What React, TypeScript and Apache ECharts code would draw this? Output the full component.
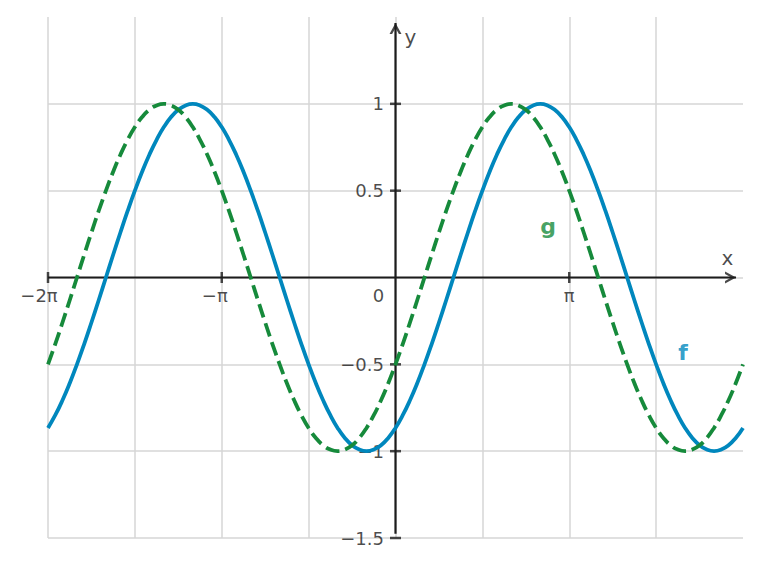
import React, { useEffect, useRef } from "react";
import * as echarts from "echarts";

const X_START = -2;
const SAMPLES_PER_PI = 24;

// f (blue, solid) every π/24 from −2π to 2π
const F_VALUES = [
  -0.866, -0.793, -0.707, -0.609, -0.5, -0.383, -0.259, -0.131, 0, 0.131, 0.259, 0.383,
  0.5, 0.609, 0.707, 0.793, 0.866, 0.924, 0.966, 0.991, 1, 0.991, 0.966, 0.924,
  0.866, 0.793, 0.707, 0.609, 0.5, 0.383, 0.259, 0.131, 0, -0.131, -0.259, -0.383,
  -0.5, -0.609, -0.707, -0.793, -0.866, -0.924, -0.966, -0.991, -1, -0.991, -0.966, -0.924,
  -0.866, -0.793, -0.707, -0.609, -0.5, -0.383, -0.259, -0.131, 0, 0.131, 0.259, 0.383,
  0.5, 0.609, 0.707, 0.793, 0.866, 0.924, 0.966, 0.991, 1, 0.991, 0.966, 0.924,
  0.866, 0.793, 0.707, 0.609, 0.5, 0.383, 0.259, 0.131, 0, -0.131, -0.259, -0.383,
  -0.5, -0.609, -0.707, -0.793, -0.866, -0.924, -0.966, -0.991, -1, -0.991, -0.966, -0.924,
  -0.866,
];

// g (green, dashed) every π/24 from −2π to 2π
const G_VALUES = [
  -0.5, -0.383, -0.259, -0.131, 0, 0.131, 0.259, 0.383, 0.5, 0.609, 0.707, 0.793,
  0.866, 0.924, 0.966, 0.991, 1, 0.991, 0.966, 0.924, 0.866, 0.793, 0.707, 0.609,
  0.5, 0.383, 0.259, 0.131, 0, -0.131, -0.259, -0.383, -0.5, -0.609, -0.707, -0.793,
  -0.866, -0.924, -0.966, -0.991, -1, -0.991, -0.966, -0.924, -0.866, -0.793, -0.707, -0.609,
  -0.5, -0.383, -0.259, -0.131, 0, 0.131, 0.259, 0.383, 0.5, 0.609, 0.707, 0.793,
  0.866, 0.924, 0.966, 0.991, 1, 0.991, 0.966, 0.924, 0.866, 0.793, 0.707, 0.609,
  0.5, 0.383, 0.259, 0.131, 0, -0.131, -0.259, -0.383, -0.5, -0.609, -0.707, -0.793,
  -0.866, -0.924, -0.966, -0.991, -1, -0.991, -0.966, -0.924, -0.866, -0.793, -0.707, -0.609,
  -0.5,
];

const X_TICKS = [-2, -1, 1];
const X_TICK_LABELS = ["−2π", "−π", "π"];
const Y_TICKS = [1, 0.5, -0.5, -1, -1.5];
const Y_TICK_LABELS = ["1", "0.5", "−0.5", "−1", "−1.5"];
const ORIGIN_LABEL = "0";

const CURVE_NAMES = ["f", "g"];
const AXIS_NAMES = ["x", "y"];

const FONT = "DejaVu Sans";
const INK = "#1c1c1c";
const BLUE = "#0087bd";
const GREEN = "#168a3b";
const GRID = "#d6d6d6";

const ARROW_RIGHT = "path://M0,0 L11,6 L0,12 L0,9.4 L6.2,6 L0,2.6 Z";
const ARROW_UP = "path://M0,11 L6,0 L12,11 L9.4,11 L6,4.8 L2.6,11 Z";

export default function App() {
  const ref = useRef<HTMLDivElement>(null);

  useEffect(() => {
    if (!ref.current) return;
    const chart = echarts.init(ref.current, null, { renderer: "svg" });

    const toPoints = (vals: number[]) =>
      vals.map((v, i) => [X_START + i / SAMPLES_PER_PI, v]);

    const X_AXIS_END = 1.96;
    const Y_AXIS_TOP = 1.465;
    const Y_AXIS_BOTTOM = -1.475;

    const labelStyle = { fontFamily: FONT, fontSize: 18, color: INK };
    // horizontal nudges of the x tick labels, as in the reference
    const xLabelShift: Record<string, number> = { "−2π": -9, "−π": -7, "π": 0 };

    const option: any = {
      animation: false,
      backgroundColor: "#ffffff",
      grid: {
        left: 48,
        right: 18,
        top: 17,
        bottom: 29,
        containLabel: false,
        outerBoundsMode: "none",
      },
      xAxis: {
        type: "value",
        min: -2,
        max: 2,
        interval: 0.5,
        axisLine: { show: false },
        axisTick: { show: false },
        axisLabel: { show: false },
        splitLine: {
          show: true,
          showMaxLine: false,
          lineStyle: { color: GRID, width: 1.5 },
        },
      },
      yAxis: {
        type: "value",
        min: -1.5,
        max: 1.5,
        interval: 0.5,
        axisLine: { show: false },
        axisTick: { show: false },
        axisLabel: { show: false },
        splitLine: {
          show: true,
          showMaxLine: false,
          lineStyle: { color: GRID, width: 1.5 },
        },
      },
      series: [
        {
          name: "x-axis",
          type: "line",
          silent: true,
          showSymbol: false,
          data: [
            [-2, 0],
            [X_AXIS_END, 0],
          ],
          lineStyle: { color: INK, width: 2.2 },
          z: 3,
        },
        {
          name: "y-axis",
          type: "line",
          silent: true,
          showSymbol: false,
          data: [
            [0, Y_AXIS_BOTTOM],
            [0, Y_AXIS_TOP],
          ],
          lineStyle: { color: INK, width: 2.2 },
          z: 3,
        },
        {
          name: "x-ticks",
          type: "scatter",
          silent: true,
          symbol: "rect",
          symbolSize: [2.5, 11],
          itemStyle: { color: INK },
          data: X_TICKS.map((t, i) => ({
            value: [t, 0],
            name: X_TICK_LABELS[i],
            label: {
              show: true,
              position: "bottom",
              distance: 3,
              offset: [xLabelShift[X_TICK_LABELS[i]] ?? 0, 0],
              formatter: "{b}",
              ...labelStyle,
            },
          })),
          z: 2,
        },
        {
          name: "origin-label",
          type: "scatter",
          silent: true,
          symbol: "rect",
          symbolSize: [1, 11],
          itemStyle: { color: "rgba(0,0,0,0)" },
          data: [
            {
              value: [0, 0],
              name: ORIGIN_LABEL,
              label: {
                show: true,
                position: "bottom",
                distance: 3,
                offset: [-17, 0],
                formatter: "{b}",
                ...labelStyle,
              },
            },
          ],
          z: 2,
        },
        {
          name: "y-ticks",
          type: "scatter",
          silent: true,
          symbol: "rect",
          symbolSize: [11, 2.5],
          itemStyle: { color: INK },
          data: Y_TICKS.map((t, i) => ({
            value: [0, t],
            name: Y_TICK_LABELS[i],
            label: {
              show: true,
              position: "left",
              distance: 6,
              formatter: "{b}",
              ...labelStyle,
            },
          })),
          z: 2,
        },
        {
          name: "x-arrow",
          type: "scatter",
          silent: true,
          symbol: ARROW_RIGHT,
          symbolSize: [11, 12],
          symbolOffset: [-5.5, 0],
          itemStyle: { color: INK },
          data: [[X_AXIS_END, 0]],
          z: 3,
        },
        {
          name: "y-arrow",
          type: "scatter",
          silent: true,
          symbol: ARROW_UP,
          symbolSize: [12, 11],
          symbolOffset: [0, 5.5],
          itemStyle: { color: INK },
          data: [[0, Y_AXIS_TOP]],
          z: 3,
        },
        {
          name: CURVE_NAMES[0],
          type: "line",
          smooth: 0.5,
          showSymbol: false,
          silent: true,
          data: toPoints(F_VALUES),
          lineStyle: { color: BLUE, width: 3.8, join: "round" },
          z: 5,
        },
        {
          name: CURVE_NAMES[1],
          type: "line",
          smooth: 0.5,
          showSymbol: false,
          silent: true,
          data: toPoints(G_VALUES),
          lineStyle: { color: GREEN, width: 3.8, type: [14, 6], cap: "butt", join: "round" },
          z: 5,
        },
        {
          name: "annotations",
          type: "scatter",
          silent: true,
          symbolSize: 1,
          itemStyle: { color: "rgba(0,0,0,0)" },
          label: { show: true, position: "inside", formatter: "{b}" },
          data: [
            {
              name: AXIS_NAMES[0],
              value: [1.91, 0.11],
              label: { fontFamily: FONT, fontSize: 20, color: INK },
            },
            {
              name: AXIS_NAMES[1],
              value: [0.086, 1.385],
              label: { fontFamily: FONT, fontSize: 20, color: INK },
            },
            {
              name: CURVE_NAMES[1],
              value: [0.879, 0.293],
              label: { fontFamily: FONT, fontSize: 22, fontWeight: "bold", color: GREEN },
            },
            {
              name: CURVE_NAMES[0],
              value: [1.655, -0.431],
              label: { fontFamily: FONT, fontSize: 22, fontWeight: "bold", color: BLUE },
            },
          ],
          z: 6,
        },
      ],
    };

    chart.setOption(option);
    return () => chart.dispose();
  }, []);

  return (
    <div
      ref={ref}
      style={{ position: "fixed", left: 0, top: 0, width: 761, height: 567, background: "#fff" }}
    />
  );
}
